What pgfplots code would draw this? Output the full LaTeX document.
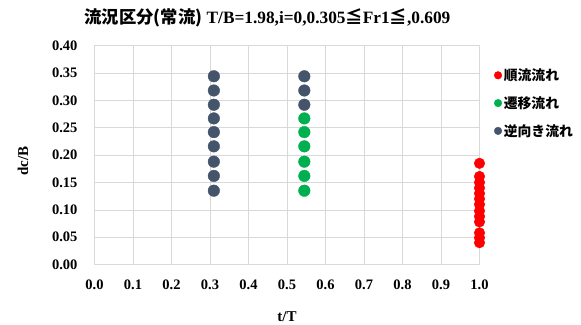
\documentclass[border=0pt]{standalone}
\usepackage{fontspec}
\setmainfont{Liberation Serif}
\newfontfamily\cjk{Noto Sans CJK JP}
\usepackage{pgfplots}
\pgfplotsset{compat=1.18}
\definecolor{cred}{HTML}{FF0000}
\definecolor{cgreen}{HTML}{00B050}
\definecolor{cgray}{HTML}{44546A}
\definecolor{gridc}{HTML}{D9D9D9}
\begin{document}
\begin{tikzpicture}
\path[use as bounding box] (0pt,0pt) rectangle (581pt,324pt);
\begin{axis}[
  at={(94.5pt,59.4pt)}, anchor=south west,
  scale only axis, width=385pt, height=219pt,
  xmin=0, xmax=1, ymin=0, ymax=0.4,
  xtick={0,0.1,0.2,0.3,0.4,0.5,0.6,0.7,0.8,0.9,1.0},
  ytick={0,0.05,0.1,0.15,0.2,0.25,0.3,0.35,0.4},
  grid=major, major grid style={gridc, line width=0.7pt},
  axis line style={gridc, line width=0.7pt},
  major tick length=0pt, tick style={draw=none},
  /pgf/number format/assume math mode=true,
  xticklabel style={font=\bfseries\fontsize{14.5}{14.5}\selectfont,
    /pgf/number format/fixed, /pgf/number format/fixed zerofill, /pgf/number format/precision=1, yshift=-12pt},
  yticklabel style={font=\bfseries\fontsize{14.5}{14.5}\selectfont,
    /pgf/number format/fixed, /pgf/number format/fixed zerofill, /pgf/number format/precision=2, xshift=-13.5pt},
  clip=false,
  legend style={at={(1.03,0.914)}, anchor=north west, draw=none, fill=none,
    font=\cjk\bfseries\fontsize{13.8}{14}\selectfont, row sep=10.5pt},
  legend cell align=left,
  legend image code/.code={\draw[#1, mark size=3.8pt] plot coordinates {(0.12cm,0cm)};},
]
\addplot[only marks, mark=*, mark size=5.3pt, color=cred, mark options={draw=cred, fill=cred}] coordinates {
(1.0,0.185) (1.0,0.161) (1.0,0.150) (1.0,0.140) (1.0,0.130) (1.0,0.120) (1.0,0.110) (1.0,0.098) (1.0,0.088) (1.0,0.078) (1.0,0.058) (1.0,0.049) (1.0,0.040)
};
\addlegendentry{順流流れ}
\addplot[only marks, mark=*, mark size=5.8pt, color=cgreen, mark options={draw=cgreen, fill=cgreen}] coordinates {
(0.545,0.267) (0.545,0.242) (0.545,0.216) (0.545,0.188) (0.545,0.162) (0.545,0.135)
};
\addlegendentry{遷移流れ}
\addplot[only marks, mark=*, mark size=5.8pt, color=cgray, mark options={draw=cgray, fill=cgray}] coordinates {
(0.31,0.344) (0.31,0.318) (0.31,0.292) (0.31,0.267) (0.31,0.242) (0.31,0.216) (0.31,0.188) (0.31,0.162) (0.31,0.135)
(0.545,0.344) (0.545,0.318) (0.545,0.292)
};
\addlegendentry{逆向き流れ}
\end{axis}
\node[font=\bfseries\fontsize{17.3}{17.3}\selectfont] at (267.5pt,306pt) {{\cjk 流況区分(常流)} T/B=1.98,i=0,0.305{\cjk ≦}Fr1{\cjk ≦},0.609};
\node[font=\bfseries\fontsize{15}{15}\selectfont, rotate=90] at (23pt,163pt) {dc/B};
\node[font=\bfseries\fontsize{15}{15}\selectfont] at (287pt,7pt) {t/T};
\end{tikzpicture}
\end{document}
